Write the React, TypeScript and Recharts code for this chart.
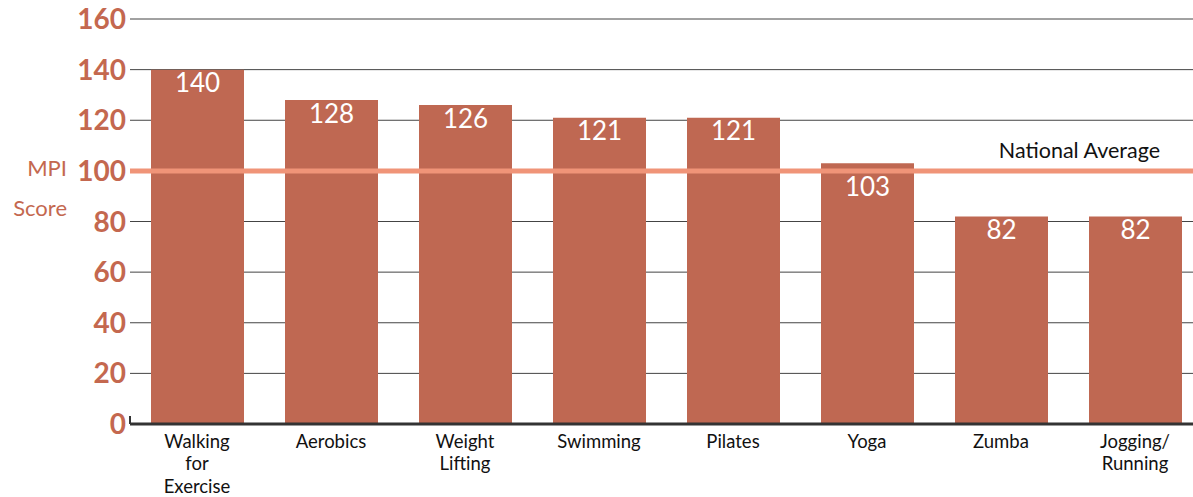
import React from 'react';
import {
  BarChart,
  Bar,
  XAxis,
  YAxis,
  CartesianGrid,
  ReferenceLine,
  LabelList,
} from 'recharts';

const ACTIVITIES = [
  'Walking\nfor\nExercise',
  'Aerobics',
  'Weight\nLifting',
  'Swimming',
  'Pilates',
  'Yoga',
  'Zumba',
  'Jogging/\nRunning',
];
const MPI_SCORES = [140, 128, 126, 121, 121, 103, 82, 82];
const Y_TICKS = [0, 20, 40, 60, 80, 100, 120, 140, 160];
const NATIONAL_AVG = 100;

const BAR_COLOR = '#BF6852';
const AXIS_TEXT = '#C4684F';
const AVG_COLOR = '#F09478';
const FONT = 'Lato, "Open Sans", sans-serif';

const data = ACTIVITIES.map((name, i) => ({ name, score: MPI_SCORES[i] }));

const YTick = (props: any) => {
  const { x, y, payload } = props;
  return (
    <g>
      <text
        x={x}
        y={y}
        dy="0.36em"
        textAnchor="end"
        fill={AXIS_TEXT}
        fontSize={28}
        fontWeight={700}
        fontFamily={FONT}
      >
        {payload.value}
      </text>
      {payload.value === 0 && (
        <line x1={x + 4} x2={x + 4} y1={y - 8} y2={y} stroke="#333" strokeWidth={2} />
      )}
    </g>
  );
};

const XTick = (props: any) => {
  const { x, y, payload } = props;
  const lines = String(payload.value).split('\n');
  return (
    <g>
      {lines.map((l, i) => (
        <text
          key={i}
          x={x}
          y={y + 24 + i * 22.3}
          textAnchor="middle"
          fill="#111"
          fontSize={18.5}
          fontFamily={FONT}
        >
          {l}
        </text>
      ))}
    </g>
  );
};

const ValueLabel = (props: any) => {
  const { x, y, width, value } = props;
  // keep the label clear of the national average line
  const nearAvg = Math.abs(value - NATIONAL_AVG) < 8;
  const top = nearAvg ? y + 14 : y + 4;
  return (
    <text
      x={x + width / 2}
      y={top}
      dy="0.72em"
      textAnchor="middle"
      fill="#fff"
      fontSize={26}
      fontFamily={FONT}
    >
      {value}
    </text>
  );
};

const AvgLabel = (props: any) => {
  const { viewBox } = props;
  return (
    <text
      x={1160}
      y={viewBox.y - 13}
      textAnchor="end"
      fill="#111"
      fontSize={21.5}
      fontFamily={FONT}
    >
      National Average
    </text>
  );
};

export default function App() {
  return (
    <div
      style={{
        position: 'absolute',
        left: 0,
        top: 0,
        width: 1193,
        height: 497,
        overflow: 'hidden',
        background: '#fff',
        fontFamily: FONT,
      }}
    >
      <div
        style={{
          position: 'absolute',
          right: 1193 - 67,
          top: 155,
          color: AXIS_TEXT,
          fontSize: 22,
          lineHeight: '26px',
          whiteSpace: 'nowrap',
        }}
      >
        MPI
      </div>
      <div
        style={{
          position: 'absolute',
          right: 1193 - 67,
          top: 195,
          color: AXIS_TEXT,
          fontSize: 22,
          lineHeight: '26px',
          whiteSpace: 'nowrap',
        }}
      >
        Score
      </div>
      <BarChart
        width={1202}
        height={497}
        data={data}
        margin={{ top: 19, right: 0, bottom: 0, left: 0 }}
        barSize={93}
      >
        <CartesianGrid vertical={false} stroke="#444" strokeWidth={1} />
        <XAxis
          dataKey="name"
          interval={0}
          height={73}
          tickLine={false}
          tickSize={0}
          tickMargin={0}
          axisLine={{ stroke: '#333', strokeWidth: 3 }}
          tick={<XTick />}
        />
        <YAxis
          width={130}
          domain={[0, 160]}
          ticks={Y_TICKS}
          interval={0}
          axisLine={false}
          tickLine={false}
          tickSize={0}
          tickMargin={4}
          tick={<YTick />}
        />
        <Bar dataKey="score" fill={BAR_COLOR} isAnimationActive={false}>
          <LabelList dataKey="score" content={<ValueLabel />} />
        </Bar>
        <ReferenceLine
          y={NATIONAL_AVG}
          stroke={AVG_COLOR}
          strokeWidth={5}
          label={<AvgLabel />}
        />
      </BarChart>
    </div>
  );
}
